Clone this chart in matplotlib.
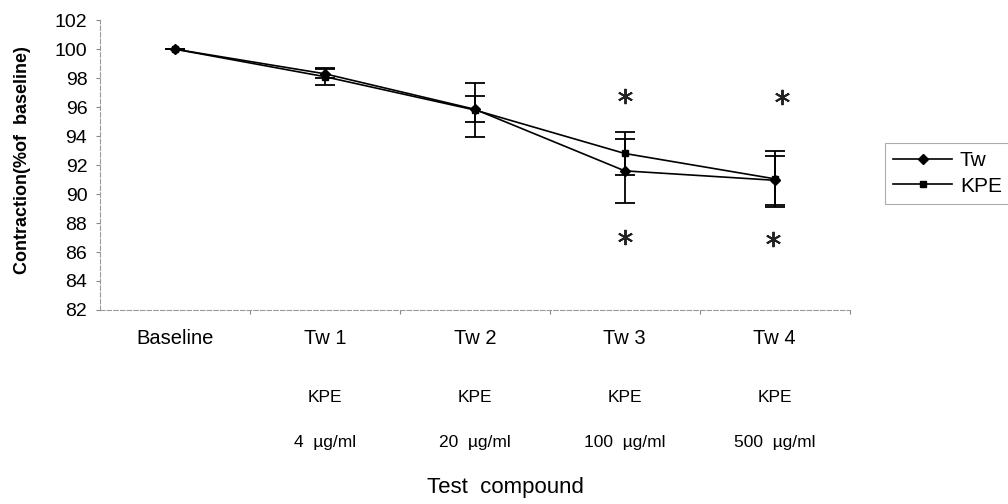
import matplotlib
matplotlib.use('Agg')
import matplotlib.pyplot as plt
import matplotlib.transforms as mtransforms
from matplotlib.lines import Line2D
import numpy as np

plt.rcParams['font.family'] = ['Liberation Sans', 'DejaVu Sans']

# data
groups = ['Baseline', 'Tw 1', 'Tw 2', 'Tw 3', 'Tw 4']
kpe_labels = ['', 'KPE', 'KPE', 'KPE', 'KPE']
dose_labels = ['', '4  µg/ml', '20  µg/ml', '100  µg/ml', '500  µg/ml']
tw = [100.0, 98.3, 95.85, 91.6, 90.95]
tw_err = [0.0, 0.3, 0.9, 2.2, 1.7]
kpe = [100.0, 98.1, 95.8, 92.8, 91.05]
kpe_err = [0.0, 0.6, 1.85, 1.5, 1.95]
star_x = [3.0, 3.0, 4.05, 3.99]
star_y = [96.8, 87.05, 96.7, 86.9]

x = np.arange(len(groups))

fig = plt.figure(figsize=(10.08, 5.04), dpi=100)
ax = fig.add_axes([0.099, 0.385, 0.744, 0.575])

ax.errorbar(x, tw, yerr=tw_err, color='black', marker='D', markersize=5,
            linewidth=1.2, elinewidth=1.3, capsize=7, capthick=1.3)
ax.errorbar(x, kpe, yerr=kpe_err, color='black', marker='s', markersize=5,
            linewidth=1.2, elinewidth=1.3, capsize=7, capthick=1.3)

# significance asterisks
ax.plot(star_x, star_y, linestyle='none', marker=(6, 2, 0), markersize=11,
        markeredgewidth=1.4, color='#222222')

ax.set_xlim(-0.5, 4.5)
ax.set_ylim(82, 102)
ax.set_yticks(np.arange(82, 103, 2))
ax.tick_params(axis='y', labelsize=14, length=3, color='#888888', pad=6)

# category boundaries carry the x ticks, labels are placed as text
ax.set_xticks(np.arange(0.5, 5, 1))
ax.set_xticklabels([])
ax.tick_params(axis='x', length=3, color='#888888')

for sp in ['top', 'right']:
    ax.spines[sp].set_visible(False)
for sp in ['left', 'bottom']:
    ax.spines[sp].set_color('#999999')
    ax.spines[sp].set_linewidth(0.8)
    ax.spines[sp].set_linestyle((0, (4, 2)))

trans = mtransforms.blended_transform_factory(ax.transData, fig.transFigure)
for i in range(len(groups)):
    ax.text(x[i], 1 - 339 / 504, groups[i], transform=trans, ha='center',
            va='center', fontsize=14.5)
    ax.text(x[i], 1 - 397 / 504, kpe_labels[i], transform=trans, ha='center',
            va='center', fontsize=12.5)
    ax.text(x[i], 1 - 443 / 504, dose_labels[i], transform=trans, ha='center',
            va='center', fontsize=12.5)

fig.text(505 / 1008, 1 - 488 / 504, 'Test  compound', ha='center', va='center',
         fontsize=16)
fig.text(23 / 1008, 1 - 160 / 504, 'Contraction(%of  baseline)', rotation=90,
         ha='center', va='center', fontsize=13, fontweight='bold')

handles = [Line2D([], [], color='black', marker='D', markersize=5, linewidth=1.2),
           Line2D([], [], color='black', marker='s', markersize=5, linewidth=1.2)]
leg = fig.legend(handles, ['Tw', 'KPE'], loc='upper left',
                 bbox_to_anchor=(885 / 1008, 1 - 143 / 504),
                 fontsize=15, handlelength=2.8, frameon=True, fancybox=False,
                 borderaxespad=0, borderpad=0.4, labelspacing=0.3, handletextpad=0.4)
leg.get_frame().set_edgecolor('#999999')
leg.get_frame().set_linewidth(0.8)

fig.savefig('out.png', dpi=100)
